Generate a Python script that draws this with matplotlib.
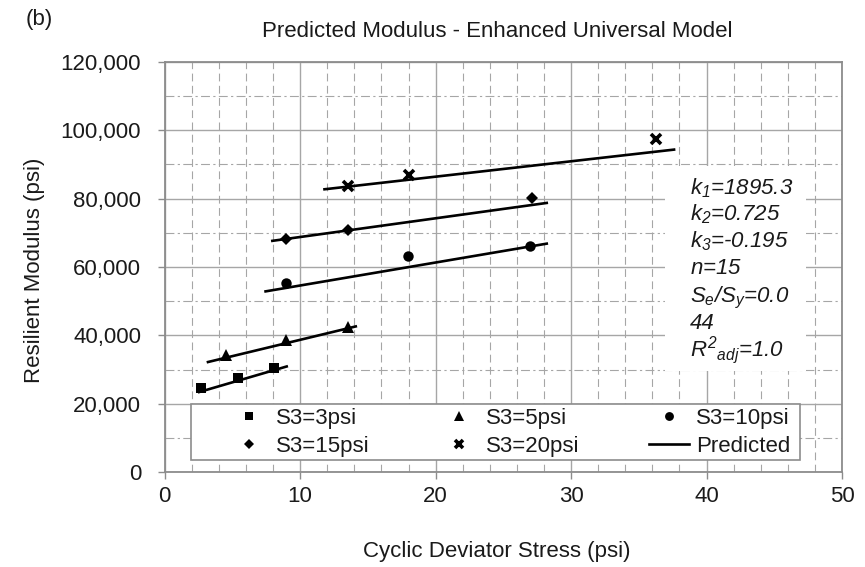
import matplotlib
matplotlib.use("Agg")
import matplotlib.pyplot as plt
from matplotlib.ticker import MultipleLocator, FuncFormatter
from matplotlib.lines import Line2D
from matplotlib.patches import Rectangle

plt.rcParams['font.family'] = ['Liberation Sans', 'DejaVu Sans']
plt.rcParams['mathtext.fontset'] = 'custom'
plt.rcParams['mathtext.rm'] = 'Liberation Sans:italic'
plt.rcParams['mathtext.it'] = 'Liberation Sans:italic'

# Measured resilient modulus by confining pressure
stress_3 = [2.65, 5.4, 8.1]
mr_3 = [24600, 27500, 30500]
stress_5 = [4.5, 8.95, 13.5]
mr_5 = [34200, 38500, 42300]
stress_10 = [8.95, 17.95, 27.0]
mr_10 = [55200, 63200, 66100]
stress_15 = [8.95, 13.55, 27.1]
mr_15 = [68100, 70800, 80200]
stress_20 = [13.55, 18.0, 36.3]
mr_20 = [83800, 87000, 97600]

# Model prediction segments (start, end) per confining pressure
pred_x = [[2.45, 9.1], [3.1, 14.2], [7.35, 28.3], [7.85, 28.3], [11.7, 37.7]]
pred_y = [[23300, 31000], [32100, 42700], [52800, 66900], [67600, 78800], [82700, 94400]]

series_labels = ["S3=3psi", "S3=5psi", "S3=10psi", "S3=15psi", "S3=20psi"]
fit_lines = [r"$k_1$=1895.3", r"$k_2$=0.725", r"$k_3$=-0.195", r"$n$=15",
             r"$S_e/S_y$=0.0", "44", r"$R^2{}_{adj}$=1.0"]

FS = 16
GRAY = "#a6a6a6"
TXT = "#1a1a1a"

fig = plt.figure(figsize=(8.65, 5.67), dpi=100)
ax = fig.add_axes([0.1904, 0.1675, 0.7830, 0.7232])
W_PX, H_PX = 677.3, 410.0  # axes size in pixels


def ax_frac(px, py):
    """Convert figure pixel position (from top-left) to axes fraction."""
    return (px - 164.7) / W_PX, (472 - py) / H_PX


ax.set_xlim(0, 50)
ax.set_ylim(0, 120000)
ax.xaxis.set_major_locator(MultipleLocator(10))
ax.xaxis.set_minor_locator(MultipleLocator(2))
ax.yaxis.set_major_locator(MultipleLocator(20000))
ax.yaxis.set_minor_locator(MultipleLocator(10000))
ax.yaxis.set_major_formatter(FuncFormatter(lambda v, p: f"{v:,.0f}"))

ax.grid(which='major', color=GRAY, lw=1.0, ls='-')
ax.grid(which='minor', axis='x', color=GRAY, lw=0.8, ls=(0, (7, 4)))
ax.grid(which='minor', axis='y', color=GRAY, lw=0.8, ls=(0, (8, 3, 2, 3)))
ax.set_axisbelow(True)

for s in ax.spines.values():
    s.set_color("#8c8c8c")
    s.set_linewidth(1.3)
ax.tick_params(which='major', direction='out', length=5, width=1, color="#8c8c8c",
               labelsize=FS, labelcolor=TXT)
ax.tick_params(axis='x', pad=5)
ax.tick_params(axis='y', pad=12)
ax.tick_params(which='minor', length=0)

series = [(stress_3, mr_3, 's', 7), (stress_5, mr_5, '^', 8),
          (stress_10, mr_10, 'o', 7.5), (stress_15, mr_15, 'D', 6.5),
          (stress_20, mr_20, 'x', 7)]
handles = []
for (xs, ys, m, ms), lab in zip(series, series_labels):
    kw = dict(mew=2.6) if m == 'x' else dict(mew=0)
    h, = ax.plot(xs, ys, ls='none', marker=m, ms=ms, color='black', label=lab,
                 zorder=4, **kw)
    handles.append(h)

for xs, ys in zip(pred_x, pred_y):
    ax.plot(xs, ys, color='black', lw=1.9, solid_capstyle='butt', zorder=3)
pred_handle = Line2D([], [], color='black', lw=1.9, label="Predicted")

# Legend frame
x0, y0 = ax_frac(191, 460)
x1, y1 = ax_frac(800, 404)
ax.add_patch(Rectangle((x0, y0), x1 - x0, y1 - y0, transform=ax.transAxes,
                       facecolor='white', edgecolor="#8c8c8c", lw=1.2, zorder=5))

# Legend rows: S3=3, 5, 10 / S3=15, 20, Predicted (column-major fill)
order = [handles[0], handles[3], handles[1], handles[4], handles[2], pred_handle]
lx, ly = ax_frac(229, 408)
leg = ax.legend(handles=order, labels=[h.get_label() for h in order], ncol=3,
                loc='upper left', bbox_to_anchor=(lx, ly), fontsize=FS,
                frameon=False, borderpad=0, labelspacing=0.3,
                handlelength=1.8, handletextpad=0.3, columnspacing=3.15,
                borderaxespad=0, markerscale=0.85)
leg.set_zorder(6)
for t in leg.get_texts():
    t.set_color(TXT)

# Fit parameter box
bx0, by0 = ax_frac(665, 371)
bx1, by1 = ax_frac(806, 166)
ax.add_patch(Rectangle((bx0, by0), bx1 - bx0, by1 - by0, transform=ax.transAxes,
                       facecolor='white', edgecolor='none', zorder=5))
y_px = [194, 220, 247, 274, 302, 329, 356]
for s, yp in zip(fit_lines, y_px):
    tx, ty = ax_frac(690, yp)
    ax.text(tx, ty, s, transform=ax.transAxes, fontsize=FS,
            style='italic', color=TXT, va='baseline', ha='left', zorder=6)

fig.text(0.5746, 0.9436, "Predicted Modulus - Enhanced Universal Model",
         ha='center', va='center', fontsize=FS, color=TXT)
fig.text(0.5746, 0.0265, "Cyclic Deviator Stress (psi)", ha='center',
         va='center', fontsize=FS, color=TXT)
fig.text(0.040, 0.524, "Resilient Modulus (psi)", rotation=90, ha='center',
         va='center', fontsize=FS, color=TXT)
fig.text(0.030, 0.966, "(b)", ha='left', va='center', fontsize=FS, color=TXT)

fig.savefig("out.png", dpi=100)
